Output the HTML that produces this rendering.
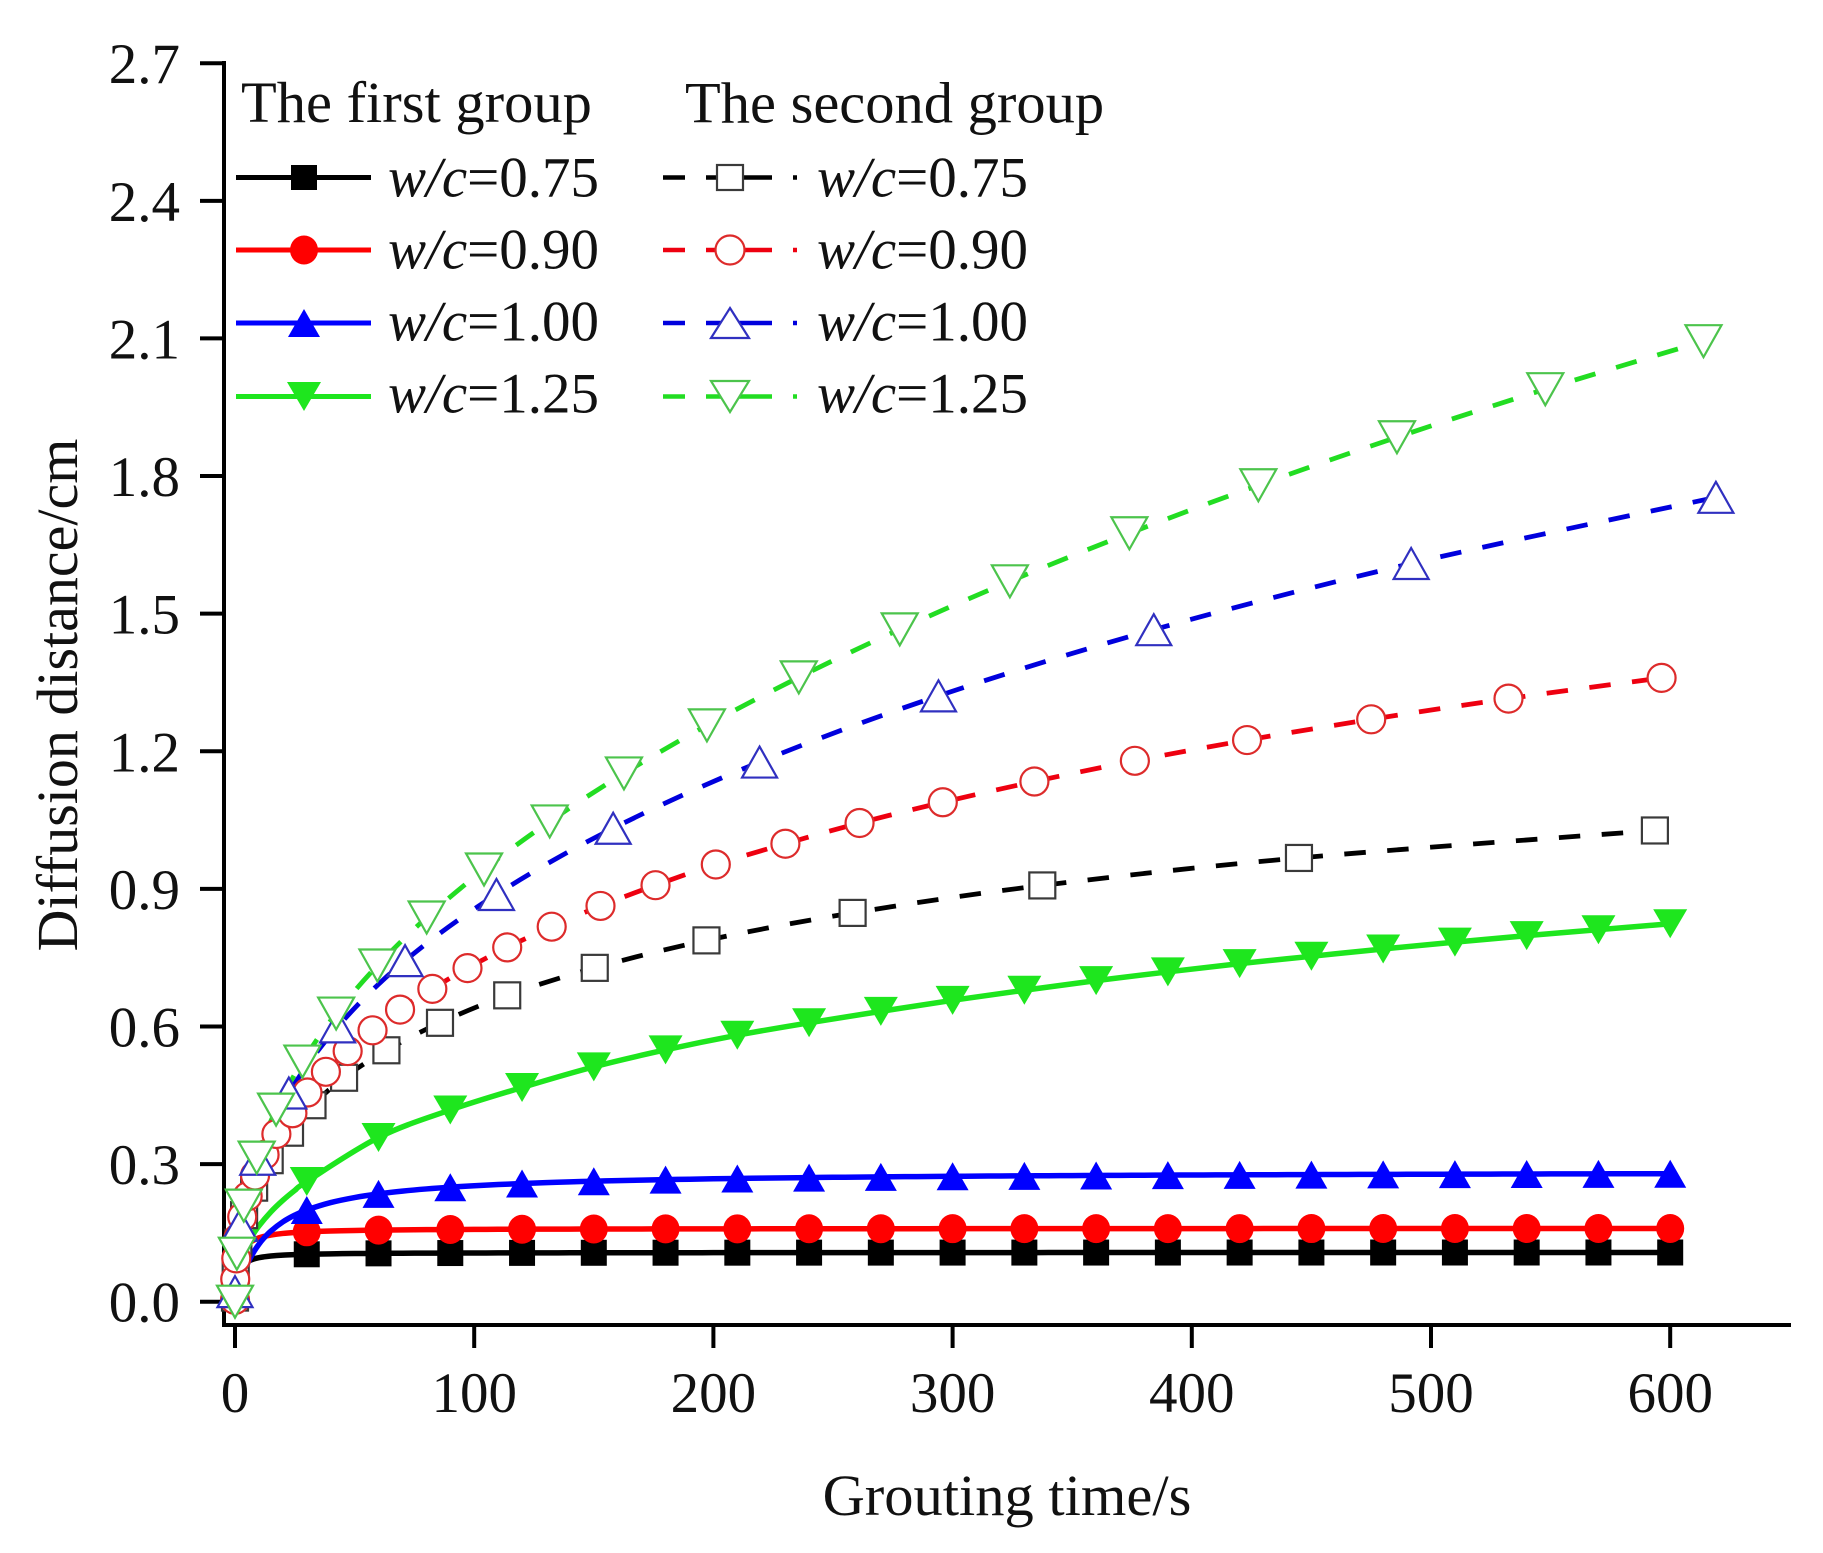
<!DOCTYPE html>
<html>
<head>
<meta charset="utf-8">
<style>
html,body{margin:0;padding:0;background:#fff;}
body{width:1823px;height:1553px;overflow:hidden;}
svg{display:block;}
text{font-family:"Liberation Serif","Times New Roman",serif;fill:#111;}
</style>
</head>
<body>
<svg id="plot" xmlns="http://www.w3.org/2000/svg" width="1823" height="1553" viewBox="0 0 1823 1553">
<rect x="0" y="0" width="1823" height="1553" fill="#fff"/>
<g id="axes" stroke="#000" stroke-width="4" fill="none">
  <line x1="224" y1="61" x2="224" y2="1327"/>
  <line x1="222" y1="1325" x2="1791" y2="1325"/>
</g>
<g id="ticks" stroke="#000" stroke-width="4"></g>
<g font-size="57">
  <text x="180" y="1321.7" text-anchor="end">0.0</text>
  <text x="180" y="1184.1" text-anchor="end">0.3</text>
  <text x="180" y="1046.5" text-anchor="end">0.6</text>
  <text x="180" y="908.9" text-anchor="end">0.9</text>
  <text x="180" y="771.3" text-anchor="end">1.2</text>
  <text x="180" y="633.6" text-anchor="end">1.5</text>
  <text x="180" y="496.0" text-anchor="end">1.8</text>
  <text x="180" y="358.4" text-anchor="end">2.1</text>
  <text x="180" y="220.8" text-anchor="end">2.4</text>
  <text x="180" y="83.2" text-anchor="end">2.7</text>
  <text x="235" y="1412" text-anchor="middle">0</text>
  <text x="474.2" y="1412" text-anchor="middle">100</text>
  <text x="713.4" y="1412" text-anchor="middle">200</text>
  <text x="952.6" y="1412" text-anchor="middle">300</text>
  <text x="1191.8" y="1412" text-anchor="middle">400</text>
  <text x="1431" y="1412" text-anchor="middle">500</text>
  <text x="1670.2" y="1412" text-anchor="middle">600</text>
</g>
<text x="1007" y="1515" font-size="58.5" text-anchor="middle">Grouting time/s</text>
<text transform="translate(77,695) rotate(-90)" font-size="58" text-anchor="middle">Diffusion distance/cm</text>

<g id="series"></g>

<!-- legend -->
<g id="legend"></g>
<text x="241" y="122" font-size="58.5">The first group</text>
<text x="685" y="122.7" font-size="58.5">The second group</text>
<g font-size="57">
  <text x="388" y="196.5"><tspan font-style="italic">w/c</tspan>=0.75</text>
  <text x="388" y="268.5"><tspan font-style="italic">w/c</tspan>=0.90</text>
  <text x="388" y="340.5"><tspan font-style="italic">w/c</tspan>=1.00</text>
  <text x="388" y="412.5"><tspan font-style="italic">w/c</tspan>=1.25</text>
  <text x="817" y="196.5"><tspan font-style="italic">w/c</tspan>=0.75</text>
  <text x="817" y="268.5"><tspan font-style="italic">w/c</tspan>=0.90</text>
  <text x="817" y="340.5"><tspan font-style="italic">w/c</tspan>=1.00</text>
  <text x="817" y="412.5"><tspan font-style="italic">w/c</tspan>=1.25</text>
</g>
</svg>
<script>
(function(){
const NS='http://www.w3.org/2000/svg';
const X=t=>235+2.392*t, Y=v=>1301.7-458.7*v;
function el(parent,tag,attrs){const e=document.createElementNS(NS,tag);for(const k in attrs)e.setAttribute(k,attrs[k]);parent.appendChild(e);return e;}
const ticks=document.getElementById('ticks');
for(let i=0;i<=9;i++){const y=Y(i*0.3);el(ticks,'line',{x1:200,y1:y,x2:224,y2:y});}
for(let i=0;i<=6;i++){const x=X(i*100);el(ticks,'line',{x1:x,y1:1325,x2:x,y2:1348});}

function catmull(pts){
  let d='M'+pts[0][0].toFixed(2)+','+pts[0][1].toFixed(2);
  for(let i=0;i<pts.length-1;i++){
    const p0=pts[i-1]||pts[i],p1=pts[i],p2=pts[i+1],p3=pts[i+2]||p2;
    const c1=[p1[0]+(p2[0]-p0[0])/6,p1[1]+(p2[1]-p0[1])/6];
    const c2=[p2[0]-(p3[0]-p1[0])/6,p2[1]-(p3[1]-p1[1])/6];
    d+=' C'+c1[0].toFixed(2)+','+c1[1].toFixed(2)+' '+c2[0].toFixed(2)+','+c2[1].toFixed(2)+' '+p2[0].toFixed(2)+','+p2[1].toFixed(2);
  }
  return d;
}
function marker(g,type,x,y,w,h,fill,stroke,sw){
  if(type==='sq') el(g,'rect',{x:x-w/2,y:y-h/2,width:w,height:h,fill:fill,stroke:stroke,'stroke-width':sw});
  else if(type==='ci') el(g,'ellipse',{cx:x,cy:y,rx:w/2,ry:h/2,fill:fill,stroke:stroke,'stroke-width':sw});
  else if(type==='tu') el(g,'polygon',{points:[x,y-h/2,x+w/2,y+h/2,x-w/2,y+h/2].join(' '),fill:fill,stroke:stroke,'stroke-width':sw,'stroke-linejoin':'miter'});
  else if(type==='td') el(g,'polygon',{points:[x-w/2,y-h/2,x+w/2,y-h/2,x,y+h/2].join(' '),fill:fill,stroke:stroke,'stroke-width':sw,'stroke-linejoin':'miter'});
}
const S=document.getElementById('series');

// ---------- first group (solid, filled) ----------
const tSamp=[0,0.25,0.5,1,1.5,2,3,4,5,6,8,10,12,15,20,25,30];
for(let t=40;t<=600;t+=10) tSamp.push(t);
const f1=[
  {fn:t=>0.1075*t/(t+1.2), col:'#000000', type:'sq', w:26,h:26},
  {fn:t=>0.160*t/(t+1.5), col:'#ff0000', type:'ci', w:28,h:29},
  {fn:t=>0.285*t/(t+12.75), col:'#0000ff', type:'tu', w:32,h:28},
];
const gTab=[0.262,0.358,0.418,0.467,0.512,0.549,0.581,0.608,0.633,0.657,0.679,0.700,0.719,0.737,0.753,0.769,0.784,0.798,0.811,0.824];
function gfn(t){
  if(t<=30) return 0.262*Math.pow(t/30,0.42);
  const i=Math.min(Math.floor(t/30)-1,18); const t0=(i+1)*30; const f=(t-t0)/30;
  return gTab[i]+(gTab[i+1]-gTab[i])*f;
}
f1.forEach(s=>{
  const pts=tSamp.map(t=>[X(t),Y(s.fn(t))]);
  el(S,'path',{d:catmull(pts),fill:'none',stroke:s.col,'stroke-width':5.5,'stroke-linejoin':'round'});
});
{
  const pts=[];
  [0,0.3,1,2,3,5,7,10,15,20,25].forEach(t=>pts.push([X(t),Y(gfn(t))]));
  for(let i=0;i<20;i++) pts.push([X(30*(i+1)),Y(gTab[i])]);
  el(S,'path',{d:catmull(pts),fill:'none',stroke:'#1ee61e','stroke-width':5.5,'stroke-linejoin':'round'});
}
f1.forEach(s=>{
  for(let t=30;t<=600;t+=30) marker(S,s.type,X(t),Y(s.fn(t)),s.w,s.h,s.col,'none',0);
});
for(let i=0;i<20;i++) marker(S,'td',X(30*(i+1)),Y(gTab[i]),34,29,'#1ee61e','none',0);

// ---------- second group (dashed, hollow) ----------
const blackT=[0,0.3,1.4,3.8,8,14.5,23,32.4,45.6,63.3,85.7,113.8,150.4,197.1,258.2,337.5,444.8,593.6];
const redT=[0,0.1,0.54,1.47,3.02,5.29,8.38,12.36,17.3,24,30.3,38.0,47.1,57.5,69.0,82.5,97.2,113.8,132.4,152.8,175.8,201,230.1,261.1,295.9,334.2,376.2,423.1,475.0,532.4,596.4];
const blueT=[0,2.0,9.5,22.5,42.9,71.1,109.3,158.1,219.3,294.1,384.1,491.7,619.1];
const greenT=[]; for(let k=0;k<=20;k++) greenT.push(Math.pow(0.1047*k/0.1165,1/0.45));
const s2=[
  {T:blackT, v:k=>0.009+0.0599*k, line:'#000000', mk:'#3a3a3a', type:'sq', w:26,h:26},
  {T:redT,   v:k=>0.004+0.0452*k, line:'#ee0010', mk:'#dd2b2b', type:'ci', w:28,h:28},
  {T:blueT,  v:k=>0.022+0.1443*k, line:'#0000dd', mk:'#3030c0', type:'tu', w:35,h:31},
  {T:greenT, v:k=>0.1047*k,       line:'#22dd22', mk:'#4cc44c', type:'td', w:36,h:32},
];
s2.forEach(s=>{
  const pts=s.T.map((t,k)=>[X(t),Y(s.v(k))]);
  el(S,'path',{d:catmull(pts),fill:'none',stroke:s.line,'stroke-width':4.8,'stroke-dasharray':'21.5 21.5','stroke-linecap':'butt'});
});
s2.forEach(s=>{
  s.T.forEach((t,k)=>marker(S,s.type,X(t),Y(s.v(k)),s.w,s.h,'#ffffff',s.mk,2.2));
});

// ---------- legend symbols ----------
const L=document.getElementById('legend');
const rows=[177.5,250,323,396.5];
const leftC=['#000000','#ff0000','#0000ff','#1ee61e'];
const types=['sq','ci','tu','td'];
const lw=[[26,25],[28,29],[32,28],[34,29]];
rows.forEach((y,i)=>{
  el(L,'line',{x1:236,y1:y,x2:371,y2:y,stroke:leftC[i],'stroke-width':5});
  marker(L,types[i],304,y,lw[i][0],lw[i][1],leftC[i],'none',0);
});
const rl=['#000000','#ee0010','#0000dd','#22dd22'];
const rm=['#3a3a3a','#dd2b2b','#3030c0','#4cc44c'];
const rw=[[26,25],[29,29],[38,30],[38,31]];
rows.forEach((y,i)=>{
  el(L,'line',{x1:663,y1:y,x2:685,y2:y,stroke:rl[i],'stroke-width':4.5});
  el(L,'line',{x1:706,y1:y,x2:772,y2:y,stroke:rl[i],'stroke-width':4.5});
  el(L,'line',{x1:793,y1:y,x2:797,y2:y,stroke:rl[i],'stroke-width':4.5});
  marker(L,types[i],730,y,rw[i][0],rw[i][1],'#fff',rm[i],2.2);
});
})();
</script>
</body>
</html>
